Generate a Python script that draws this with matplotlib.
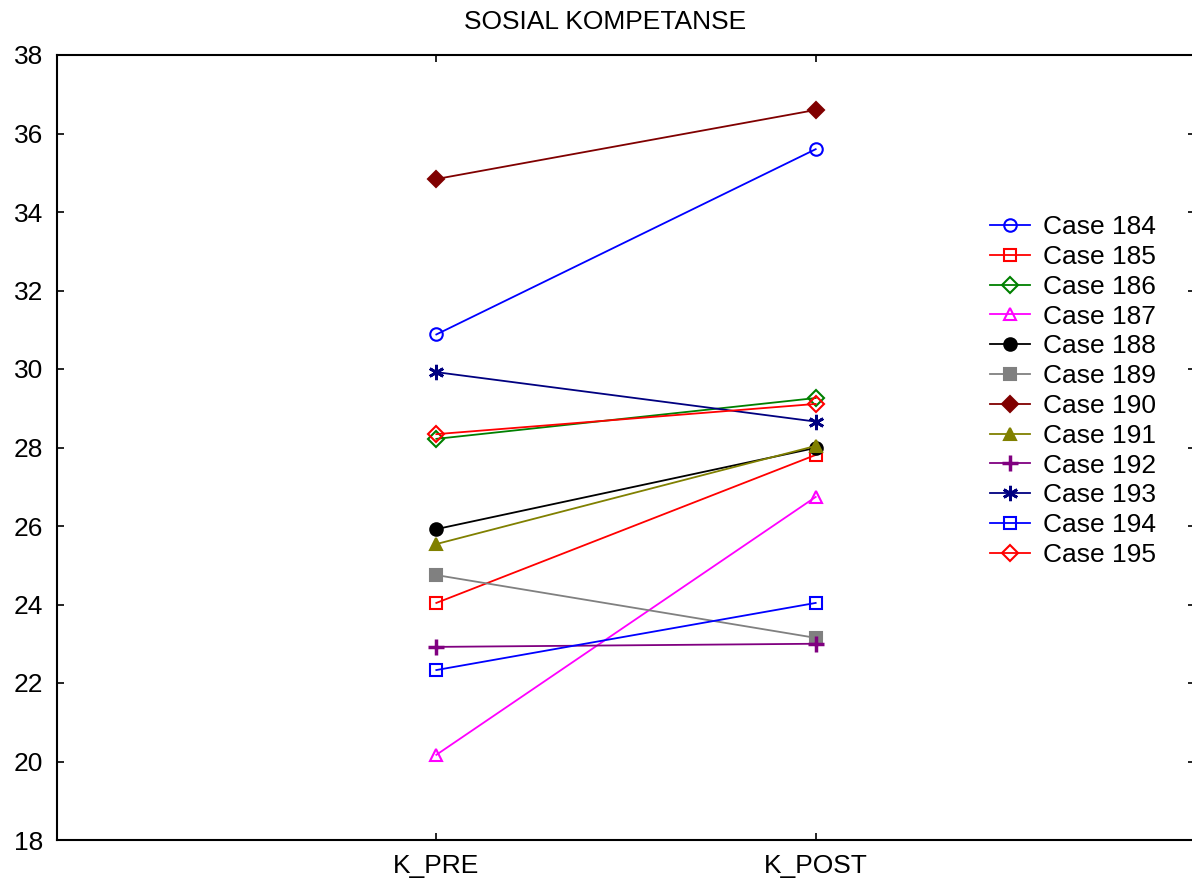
import matplotlib
matplotlib.use("Agg")
import matplotlib.pyplot as plt

plt.rcParams['font.family'] = ['Liberation Sans', 'DejaVu Sans']

# data
conditions = ["K_PRE", "K_POST"]
cases = ["Case 184", "Case 185", "Case 186", "Case 187", "Case 188", "Case 189",
         "Case 190", "Case 191", "Case 192", "Case 193", "Case 194", "Case 195"]
pre = [30.88, 24.04, 28.22, 20.17, 25.92, 24.75, 34.84, 25.54, 22.92, 29.92, 22.33, 28.34]
post = [35.60, 27.81, 29.26, 26.74, 27.99, 23.15, 36.60, 28.04, 23.00, 28.66, 24.04, 29.11]

# (colour, marker, filled)
styles = [
    ("#0000ff", "o", False),
    ("#ff0000", "s", False),
    ("#008000", "D", False),
    ("#ff00ff", "^", False),
    ("#000000", "o", True),
    ("#808080", "s", True),
    ("#800000", "D", True),
    ("#808000", "^", True),
    ("#800080", "+", True),
    ("#000080", "*", True),
    ("#0000ff", "s", False),
    ("#ff0000", "D", False),
]

W, H = 1192, 881
fig = plt.figure(figsize=(W / 100, H / 100), dpi=100)
ax = fig.add_axes([57 / W, 1 - 840 / H, (1195 - 57) / W, (840 - 55) / H])

xs = [1, 2]
for name, a, b, (c, m, filled) in zip(cases, pre, post, styles):
    ms = 9 if m not in ("+", "*") else 11
    if m == "D":
        ms = 8
    kw = dict(color=c, marker=m, markersize=ms, linewidth=1.3, label=name,
              markeredgewidth=1.5)
    if m == "*":
        kw["marker"] = (6, 2, 0)
        kw["markeredgewidth"] = 2
    if m == "+":
        kw["markeredgewidth"] = 2.5
    if not filled:
        kw["markerfacecolor"] = "none"
    ax.plot(xs, [a, b], **kw)

ax.set_xlim(0, 3)
ax.set_ylim(18, 38)
ax.set_xticks(xs)
ax.set_xticklabels(conditions)
ax.set_yticks(range(18, 39, 2))
ax.tick_params(direction="in", length=5, width=1.2, labelsize=19,
               top=True, right=True, pad=10)
for s in ax.spines.values():
    s.set_linewidth(1.5)

fig.text(605 / W, 1 - 22 / H, "SOSIAL KOMPETANSE", ha="center", va="center",
         fontsize=19)

ax.legend(loc="upper left", bbox_to_anchor=(933 / 1138, 0.796), frameon=False,
          fontsize=19, handlelength=1.5, handletextpad=0.5, labelspacing=0.22,
          borderaxespad=0, borderpad=0)

fig.savefig("out.png", dpi=100)
